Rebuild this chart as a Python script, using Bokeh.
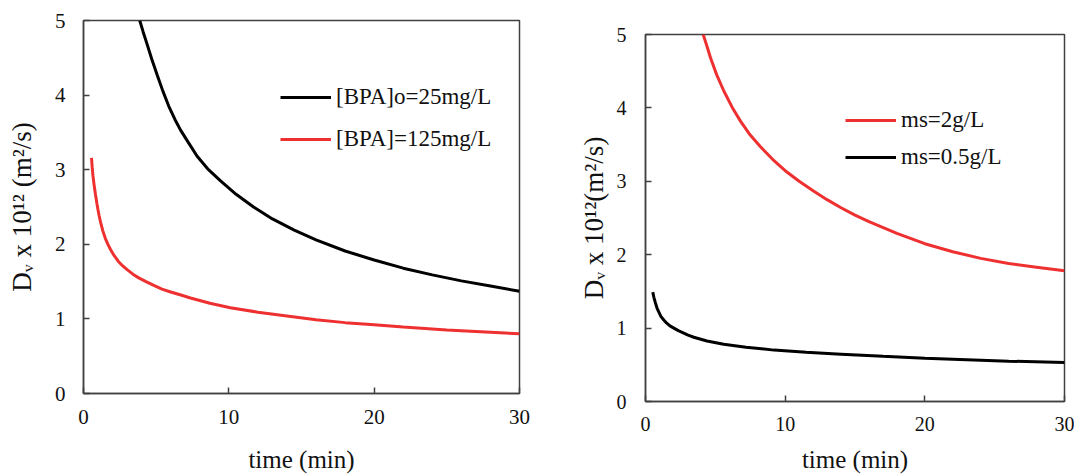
from bokeh.plotting import figure
from bokeh.models import Range1d, FixedTicker, Legend, LegendItem
from bokeh.layouts import row, column
from bokeh.embed import file_html
from bokeh.resources import INLINE

# ---- data ----
left_black_t = [3.87, 4.1, 4.38, 4.7, 5.07, 5.45, 5.87, 6.3, 6.68, 7.2, 7.82, 8.6, 9.43, 10.5, 11.7, 13.0, 14.5, 16, 18, 20, 22, 24, 26, 28, 30]
left_black_v = [5.0, 4.85, 4.68, 4.48, 4.27, 4.06, 3.85, 3.67, 3.53, 3.37, 3.18, 3.0, 2.85, 2.67, 2.5, 2.34, 2.19, 2.06, 1.91, 1.79, 1.68, 1.59, 1.51, 1.44, 1.37]
left_red_t = [0.55, 0.6, 0.65, 0.74, 0.83, 0.92, 1.0, 1.08, 1.17, 1.33, 1.5, 1.68, 1.86, 2.1, 2.4, 2.7, 3.0, 3.4, 3.8, 4.3, 4.84, 5.4, 6.0, 6.7, 7.36, 8.7, 10.1, 12, 13.6, 16, 18, 20, 22, 25, 28, 30]
left_red_v = [3.16, 3.03, 2.92, 2.78, 2.66, 2.55, 2.46, 2.38, 2.3, 2.18, 2.08, 2.0, 1.93, 1.85, 1.77, 1.71, 1.66, 1.6, 1.55, 1.5, 1.45, 1.4, 1.36, 1.32, 1.28, 1.21, 1.15, 1.09, 1.05, 0.99, 0.95, 0.92, 0.89, 0.85, 0.82, 0.80]
left_labels = ["[BPA]o=25mg/L", "[BPA]=125mg/L"]

right_red_t = [4.13, 4.4, 4.66, 5.1, 5.61, 6.2, 6.8, 7.5, 8.23, 9.1, 10.1, 11, 12, 13, 14, 15, 16, 18, 20, 22, 24, 26, 28, 30]
right_red_v = [5.0, 4.84, 4.68, 4.45, 4.23, 4.01, 3.82, 3.63, 3.47, 3.3, 3.13, 3.0, 2.87, 2.75, 2.64, 2.54, 2.45, 2.29, 2.15, 2.04, 1.95, 1.88, 1.83, 1.78]
right_black_t = [0.52, 0.6, 0.7, 0.83, 0.95, 1.1, 1.31, 1.5, 1.75, 2.03, 2.35, 2.7, 3.05, 3.46, 4.4, 5.6, 7.2, 9.2, 11.5, 14, 17, 20, 23, 26, 30]
right_black_v = [1.49, 1.42, 1.35, 1.27, 1.22, 1.16, 1.11, 1.07, 1.03, 1.0, 0.965, 0.935, 0.905, 0.875, 0.825, 0.78, 0.74, 0.70, 0.67, 0.645, 0.615, 0.59, 0.57, 0.55, 0.53]
right_labels = ["ms=2g/L", "ms=0.5g/L"]

x_ticks = [0, 10, 20, 30]
y_ticks = [0, 1, 2, 3, 4, 5]

RED = "#EE3030"
BLACK = "#000000"
FONT = "Liberation Serif"
EDGE = "#404040"
TXT = "#111111"


def make_fig(w, h, bl, br, bt, bb, tick_size):
    p = figure(width=w, height=h, output_backend="svg", toolbar_location=None,
               x_range=Range1d(0, 30), y_range=Range1d(0, 5),
               min_border_left=bl, min_border_right=br, min_border_top=bt, min_border_bottom=bb)
    p.xgrid.visible = False
    p.ygrid.visible = False
    p.outline_line_color = EDGE
    p.outline_line_width = 1.5
    p.background_fill_color = "white"
    p.border_fill_color = "white"
    for ax in (p.xaxis[0], p.yaxis[0]):
        ax.axis_line_color = EDGE
        ax.axis_line_width = 1.5
        ax.major_tick_line_color = EDGE
        ax.major_tick_line_width = 1.5
        ax.major_tick_in = 6
        ax.major_tick_out = 0
        ax.minor_tick_line_color = None
        ax.major_label_text_font = FONT
        ax.major_label_text_font_size = tick_size
        ax.major_label_text_color = TXT
        ax.axis_label_text_font = FONT
        ax.axis_label_text_font_style = "normal"
        ax.axis_label_text_color = TXT
    p.xaxis.ticker = FixedTicker(ticks=x_ticks)
    p.yaxis.ticker = FixedTicker(ticks=y_ticks)
    p.yaxis.axis_label_text_font_size = "27px"
    p.xaxis.axis_label_text_font_size = "25px"
    p.xaxis.axis_label = "time (min)"
    return p


def make_legend(items, loc, gh, sp, fs):
    return Legend(items=items, location=loc, orientation="vertical",
                  glyph_width=51, glyph_height=gh, label_height=gh, spacing=sp,
                  label_standoff=5, padding=0, margin=0,
                  border_line_alpha=0, background_fill_alpha=0,
                  label_text_font=FONT, label_text_font_size=fs, label_text_color=TXT)


# ---- left panel ----
p1 = make_fig(560, 475, 83, 41, 20, 81, "21px")
p1.yaxis.axis_label = "D\u1d65 x 10\u00b9\u00b2 (m\u00b2/s)"
p1.yaxis.major_label_standoff = 18
p1.yaxis.axis_label_standoff = 15
p1.xaxis.major_label_standoff = 16
p1.xaxis.axis_label_standoff = 19
rb1 = p1.line(left_black_t, left_black_v, line_color=BLACK, line_width=3)
rr1 = p1.line(left_red_t, left_red_v, line_color=RED, line_width=3)
p1.add_layout(make_legend([LegendItem(label=left_labels[0], renderers=[rb1]),
                           LegendItem(label=left_labels[1], renderers=[rr1])],
                          (197, 241), 26, 16, "23px"))

# ---- right panel ----
p2 = make_fig(514, 475, 85, 10, 34, 71, "20px")
p2.yaxis.axis_label = "D\u1d65 x 10\u00b9\u00b2(m\u00b2/s)"
p2.yaxis.major_label_standoff = 19
p2.yaxis.axis_label_standoff = 5
p2.xaxis.major_label_standoff = 15
p2.xaxis.axis_label_standoff = 12
rr2 = p2.line(right_red_t, right_red_v, line_color=RED, line_width=3)
rb2 = p2.line(right_black_t, right_black_v, line_color=BLACK, line_width=3)
p2.add_layout(make_legend([LegendItem(label=right_labels[0], renderers=[rr2]),
                           LegendItem(label=right_labels[1], renderers=[rb2])],
                          (200, 231), 26, 11, "23px"))

layout = row(column(p1), column(p2))
open("out.html", "w").write(file_html(layout, INLINE))
